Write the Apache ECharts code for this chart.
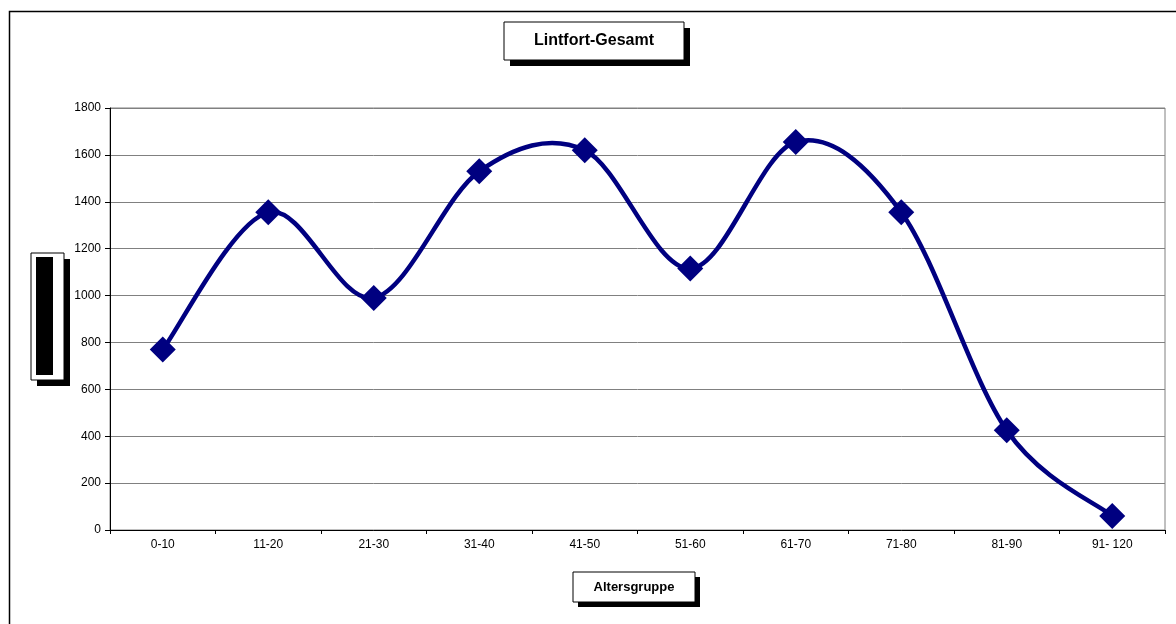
<!DOCTYPE html>
<html>
<head>
<meta charset="utf-8">
<script src="https://cdn.jsdelivr.net/npm/echarts@6/dist/echarts.min.js"></script>
<style>
html,body{margin:0;padding:0;background:#fff;}
#chart{width:1176px;height:624px;}
</style>
</head>
<body>
<div id="chart"></div>
<script>
const categories = ['0-10','11-20','21-30','31-40','41-50','51-60','61-70','71-80','81-90','91- 120'];
const values = [770, 1355, 990, 1530, 1620, 1115, 1655, 1355, 425, 60];
const yTicks = { min: 0, max: 1800, interval: 200 };
const titleText = 'Lintfort-Gesamt';
const xTitleText = 'Altersgruppe';

const chart = echarts.init(document.getElementById('chart'), null, {renderer: 'canvas'});
const font = 'Liberation Sans, Arial, sans-serif';

function box(x, y, w, h, off, children) {
  return {
    type: 'group',
    children: [
      {type: 'rect', shape: {x: x + off, y: y + off, width: w, height: h}, style: {fill: '#000'}},
      {type: 'rect', shape: {x: x, y: y, width: w, height: h}, style: {fill: '#fff', stroke: '#000', lineWidth: 1}}
    ].concat(children || [])
  };
}

// Excel-style smoothed line (Bezier through the data points)
function renderSmooth(params, api) {
  if (params.dataIndex !== 0) return null;
  const pts = values.map((v, i) => api.coord([i, v]));
  const n = pts.length;
  let d = 'M' + pts[0][0] + ' ' + pts[0][1];
  const k = 1 / 6;
  for (let i = 0; i < n - 1; i++) {
    const p0 = pts[Math.max(i - 1, 0)];
    const p1 = pts[i];
    const p2 = pts[i + 1];
    const p3 = pts[Math.min(i + 2, n - 1)];
    const c1x = p1[0] + (p2[0] - p0[0]) * k;
    const c1y = p1[1] + (p2[1] - p0[1]) * k;
    const c2x = p2[0] - (p3[0] - p1[0]) * k;
    const c2y = p2[1] - (p3[1] - p1[1]) * k;
    d += ' C' + c1x + ' ' + c1y + ' ' + c2x + ' ' + c2y + ' ' + p2[0] + ' ' + p2[1];
  }
  return {
    type: 'path',
    shape: {pathData: d},
    style: {fill: 'none', stroke: '#000080', lineWidth: 4.5, lineJoin: 'round'}
  };
}

chart.setOption({
  animation: false,
  backgroundColor: '#fff',
  grid: {left: 110, right: 11, top: 108, bottom: 94, show: true, borderColor: '#808080', borderWidth: 1, backgroundColor: 'transparent'},
  xAxis: {
    type: 'category',
    data: categories,
    boundaryGap: true,
    axisLine: {lineStyle: {color: '#000', width: 1}},
    axisTick: {show: true, length: 4, lineStyle: {color: '#000'}},
    axisLabel: {color: '#000', fontFamily: font, fontSize: 12, margin: 9},
    splitLine: {show: false}
  },
  yAxis: {
    type: 'value',
    min: yTicks.min, max: yTicks.max, interval: yTicks.interval,
    axisLine: {show: true, lineStyle: {color: '#000', width: 1}},
    axisTick: {show: true, length: 5, lineStyle: {color: '#000'}},
    axisLabel: {color: '#000', fontFamily: font, fontSize: 12, margin: 9, formatter: v => String(v)},
    splitLine: {show: true, lineStyle: {color: '#808080', width: 1}}
  },
  series: [
    {
      type: 'custom',
      renderItem: renderSmooth,
      data: values.map((v, i) => [i, v]),
      encode: {x: 0, y: 1},
      clip: false,
      z: 2
    },
    {
      type: 'scatter',
      data: values,
      symbol: 'diamond',
      symbolSize: [26, 26],
      itemStyle: {color: '#000080', opacity: 1},
      z: 5
    }
  ],
  graphic: [
    {type: 'rect', shape: {x: 9.5, y: 11.5, width: 1300, height: 800}, style: {fill: 'none', stroke: '#000', lineWidth: 1.5}, z: 10},
    Object.assign(box(504, 22, 180, 38, 6, [
      {type: 'text', x: 594, y: 41, style: {text: titleText, font: 'bold 16px ' + font, fill: '#000', align: 'center', verticalAlign: 'middle'}}
    ]), {z: 10}),
    Object.assign(box(573, 572, 122, 30, 5, [
      {type: 'text', x: 634, y: 587, style: {text: xTitleText, font: 'bold 13px ' + font, fill: '#000', align: 'center', verticalAlign: 'middle'}}
    ]), {z: 10}),
    Object.assign(box(31, 253, 33, 127, 6, [
      {type: 'rect', shape: {x: 36, y: 257, width: 17, height: 118}, style: {fill: '#000'}}
    ]), {z: 10})
  ]
});
</script>
</body>
</html>
